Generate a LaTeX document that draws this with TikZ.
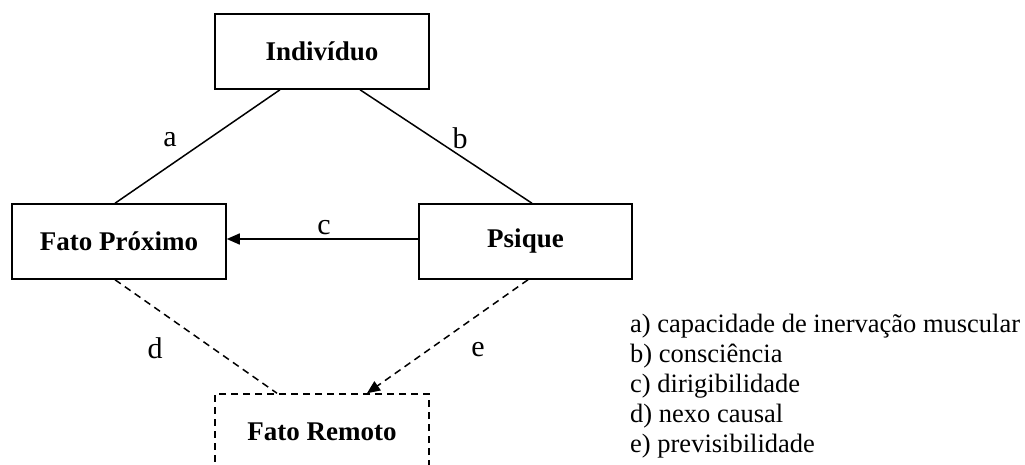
\documentclass[tikz,border=0pt]{standalone}
\usepackage{fontspec}
\setmainfont{Liberation Serif}
\usetikzlibrary{arrows.meta}
\begin{document}
\begin{tikzpicture}[x=1pt,y=-1pt,
  box/.style={draw, line width=1.5pt, minimum width=214pt, minimum height=75pt, inner sep=0pt,
    font=\fontsize{27}{32}\selectfont\bfseries},
  dbox/.style={box, dash pattern=on 7pt off 5pt},
  conn/.style={line width=1.5pt},
  dconn/.style={conn, dash pattern=on 7pt off 5pt},
  elabel/.style={font=\fontsize{30}{36}\selectfont, inner sep=0pt},
  legend/.style={font=\fontsize{26.5}{30}\selectfont, inner sep=0pt, anchor=base west},
  tip/.style={-{Triangle[length=13pt,width=11pt]}}
]
\useasboundingbox (0,0) rectangle (1025,464);
\node[box] (ind) at (322,51.5) {Indivíduo};
\node[box] (fp) at (119,241.5) {Fato Próximo};
\node[box, minimum width=213pt] (ps) at (525.5,241.5) {Psique};
\node[dbox] (fr) at (322,431.5) {Fato Remoto};

\draw[conn] ([xshift=-42pt]ind.south) -- ([xshift=-4pt]fp.north);
\draw[conn] ([xshift=38pt]ind.south) -- ([xshift=6.5pt]ps.north);
\draw[conn, tip] ([yshift=2.5pt]ps.west) -- ([yshift=2.5pt]fp.east);
\draw[dconn] ([xshift=-4pt]fp.south) -- ([xshift=-45pt]fr.north);
\draw[dconn, tip] ([xshift=2.5pt]ps.south) -- ([xshift=45pt]fr.north);

\node[elabel] (la) at (170,140) {a};
\node[elabel] (lb) at (460,138) {b};
\node[elabel] (lc) at (324,228) {c};
\node[elabel] (ld) at (155,348) {d};
\node[elabel] (le) at (478,350) {e};

\node[legend] (ga) at (630,332) {a) capacidade de inervação muscular};
\node[legend] (gb) at (630,362) {b) consciência};
\node[legend] (gc) at (630,392) {c) dirigibilidade};
\node[legend] (gd) at (630,422) {d) nexo causal};
\node[legend] (ge) at (630,452) {e) previsibilidade};
\end{tikzpicture}
\end{document}
